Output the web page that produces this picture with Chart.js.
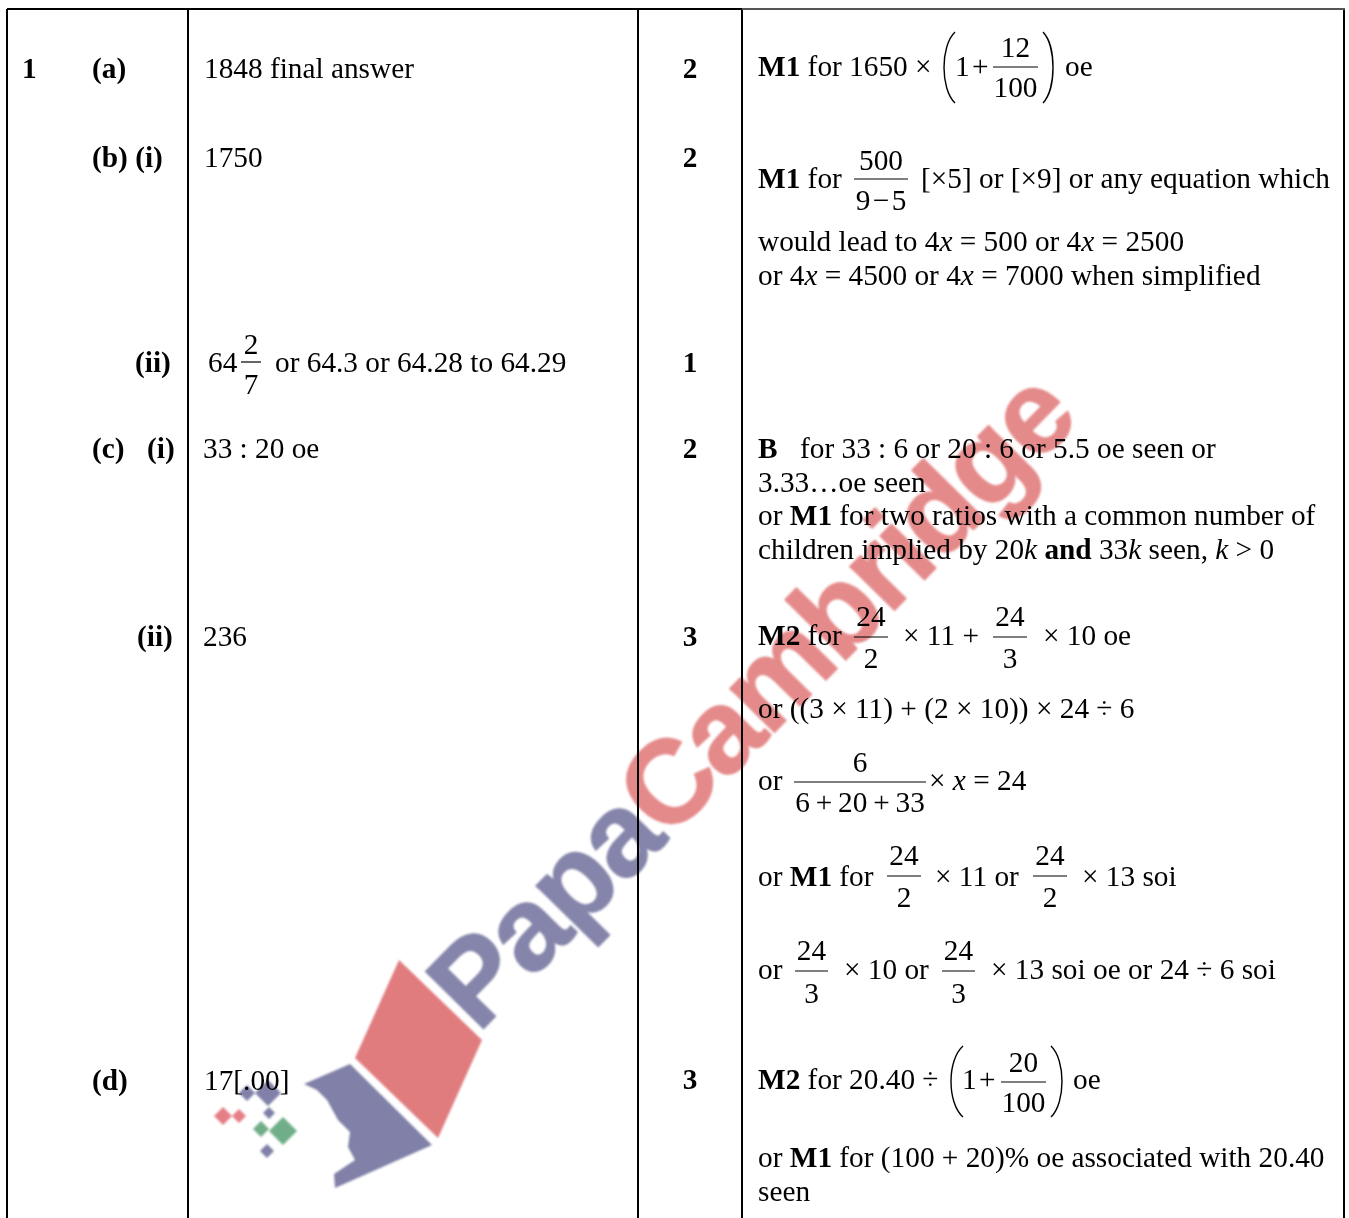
<!DOCTYPE html>
<html>
<head>
<meta charset="utf-8">
<style>
  html, body { margin: 0; padding: 0; background: #fff; }
  canvas { display: block; }
</style>
<script src="https://cdn.jsdelivr.net/npm/chart.js@4"></script>
</head>
<body>
<canvas id="sheet" width="1349" height="1218"></canvas>
<script>
// Table rules
const ruleX1 = [7, 742, 7, 188, 638, 742, 1344];
const ruleY1 = [9, 9, 9, 9, 9, 9, 9];
const ruleX2 = [742, 1345, 7, 188, 638, 742, 1344];
const ruleY2 = [9, 9, 1218, 1218, 1218, 1218, 1218];
const ruleColor = ['#000', '#555', '#000', '#000', '#000', '#000', '#000'];

// Question labels, *bold* and _italic_ are marked in the strings
const cellTexts = [
  '*1*', '*(a)*', '*(b) (i)*', '*(ii)*', '*(c)*', '*(i)*', '*(ii)*', '*(d)*',
  '1848 final answer', '1750', '64', 'or 64.3 or 64.28 to 64.29', '33 : 20 oe', '236', '17[.00]',
  '*M1* for 1650 ×', '1\u200a+', 'oe',
  '*M1* for', '[×5] or [×9] or any equation which',
  'would lead to 4_x_ = 500 or 4_x_ = 2500', 'or 4_x_ = 4500 or 4_x_ = 7000 when simplified',
  '*B*', 'for 33 : 6 or 20 : 6 or 5.5 oe seen or', '3.33…oe seen',
  'or *M1* for two ratios with a common number of',
  'children implied by 20_k_ *and* 33_k_ seen, _k_ > 0',
  '*M2* for', '× 11 +', '× 10 oe',
  'or ((3 × 11) + (2 × 10)) × 24 ÷ 6',
  'or', '× _x_ = 24',
  'or *M1* for', '× 11 or', '× 13 soi',
  'or', '× 10 or', '× 13 soi oe or 24 ÷ 6 soi',
  '*M2* for 20.40 ÷', '1\u200a+', 'oe',
  'or *M1* for (100 + 20)% oe associated with 20.40', 'seen'
];
const cellX = [
  22, 92, 92, 135, 92, 147, 137, 92,
  204, 204, 208, 275, 203, 203, 204,
  758, 955, 1065,
  758, 921,
  758, 758,
  758, 800, 758,
  758,
  758,
  758, 903, 1043,
  758,
  758, 929,
  758, 935, 1082,
  758, 844, 991,
  758, 962, 1073,
  758, 758
];
const cellY = [
  78, 78, 167, 372, 458, 458, 646, 1090,
  78, 167, 372, 372, 458, 646, 1090,
  76, 76, 76,
  188, 188,
  251, 285,
  458, 458, 492,
  525,
  559,
  645, 645, 645,
  718,
  790, 790,
  886, 886, 886,
  979, 979, 979,
  1089, 1089, 1089,
  1167, 1201
];

// Marks column
const markValues = ['2', '2', '1', '2', '3', '3'];
const markX = [690, 690, 690, 690, 690, 690];
const markY = [78, 167, 372, 458, 646, 1089];

// Fractions in the working
const fracTop = ['12', '500', '2', '24', '24', '6', '24', '24', '24', '24', '20'];
const fracBottom = ['100', '9\u200a−\u200a5', '7', '2', '3', '6\u2009+\u200920\u2009+\u200933', '2', '2', '3', '3', '100'];
const fracLeft = [993, 854, 241, 854, 993, 794, 887, 1033, 795, 942, 1001];
const fracRight = [1038, 908, 261, 888, 1027, 926, 921, 1067, 828, 975, 1046];
const fracBar = [67, 179, 362, 637, 637, 782, 876, 876, 971, 971, 1082];
const fracTopY = [57, 170, 354, 626, 626, 772, 865, 865, 960, 960, 1072];
const fracBottomY = [97, 210, 394, 668, 668, 812, 907, 907, 1003, 1003, 1112];

// Big brackets: edge x, bulge x, top y, bottom y
const bracketEdge = [955, 1043, 963, 1051];
const bracketBulge = [944, 1053, 951, 1062];
const bracketTop = [32, 32, 1046, 1046];
const bracketBottom = [103, 103, 1117, 1117];

// Watermark
const wmWords = ['Papa', 'Cambridge'];
const logoRedX = [399, 482, 438, 355];
const logoRedY = [960, 1040, 1138, 1058];
const logoBlueX = [304, 350, 432, 335, 334, 355, 348, 350, 338, 327, 317];
const logoBlueY = [1084, 1064, 1145, 1188, 1174, 1160, 1147, 1132, 1120, 1100, 1090];
const gemX = [268, 247, 269, 223, 239, 283, 261, 267];
const gemY = [1093, 1093, 1113, 1116, 1116, 1131, 1129, 1151];
const gemR = [13, 8, 6, 9, 7, 14, 8, 7];
const gemColor = ['#8080a8', '#8080a8', '#8080a8', '#e57f85', '#e57f85', '#6fae88', '#6fae88', '#8080a8'];

const serif = '"Liberation Serif", "Times New Roman", serif';
const fontSize = 29.3;

function drawRuns(ctx, text, x, y, align) {
  const runs = text.split(/(\*[^*]+\*|_[^_]+_)/).filter(s => s !== '');
  const fontFor = r => {
    if (r[0] === '*') return 'bold ' + fontSize + 'px ' + serif;
    if (r[0] === '_') return 'italic ' + fontSize + 'px ' + serif;
    return fontSize + 'px ' + serif;
  };
  const clean = r => (r[0] === '*' || r[0] === '_') ? r.slice(1, -1) : r;
  let total = 0;
  runs.forEach(r => { ctx.font = fontFor(r); total += ctx.measureText(clean(r)).width; });
  let cx = align === 'center' ? x - total / 2 : x;
  runs.forEach(r => {
    ctx.font = fontFor(r);
    ctx.fillText(clean(r), cx, y);
    cx += ctx.measureText(clean(r)).width;
  });
}

// Draws the text held on the invisible point datasets and the bits the library has no element for
const sheetPlugin = {
  id: 'sheetPlugin',
  afterDatasetsDraw(chart) {
    const ctx = chart.ctx;
    const sx = chart.scales.x;
    const sy = chart.scales.y;
    ctx.save();
    ctx.fillStyle = '#000';
    ctx.textBaseline = 'alphabetic';
    ctx.textAlign = 'left';
    chart.getDatasetMeta(chart.data.datasets.findIndex(d => d.label === 'cells')).data.forEach((pt, i) => {
      drawRuns(ctx, cellTexts[i], pt.x, pt.y, 'left');
    });
    chart.getDatasetMeta(chart.data.datasets.findIndex(d => d.label === 'marks')).data.forEach((pt, i) => {
      drawRuns(ctx, '*' + markValues[i] + '*', pt.x, pt.y, 'center');
    });
    fracTop.forEach((t, i) => {
      const mid = sx.getPixelForValue((fracLeft[i] + fracRight[i]) / 2);
      drawRuns(ctx, t, mid, sy.getPixelForValue(fracTopY[i]), 'center');
      drawRuns(ctx, fracBottom[i], mid, sy.getPixelForValue(fracBottomY[i]), 'center');
    });
    ctx.strokeStyle = '#000';
    ctx.lineWidth = 1.4;
    bracketEdge.forEach((e, i) => {
      const top = sy.getPixelForValue(bracketTop[i]);
      const bottom = sy.getPixelForValue(bracketBottom[i]);
      const edge = sx.getPixelForValue(e);
      const bulge = sx.getPixelForValue(bracketBulge[i]);
      const ctrl = edge + (bulge - edge) / 0.75;
      ctx.beginPath();
      ctx.moveTo(edge, top);
      ctx.bezierCurveTo(ctrl, top + 14, ctrl, bottom - 14, edge, bottom);
      ctx.stroke();
    });

    // watermark goes over the text, on its own layer so the strokes do not double up
    const layer = document.createElement('canvas');
    layer.width = chart.width;
    layer.height = chart.height;
    const lc = layer.getContext('2d');
    const poly = (xs, ys, color) => {
      lc.fillStyle = color;
      lc.beginPath();
      xs.forEach((x, i) => lc.lineTo(sx.getPixelForValue(x), sy.getPixelForValue(ys[i])));
      lc.closePath();
      lc.fill();
    };
    poly(logoRedX, logoRedY, '#e07c7e');
    poly(logoBlueX, logoBlueY, '#8080a8');
    gemX.forEach((x, i) => {
      const r = gemR[i];
      poly([x - r, x, x + r, x], [gemY[i], gemY[i] - r, gemY[i], gemY[i] + r], gemColor[i]);
    });
    lc.translate(sx.getPixelForValue(478), sy.getPixelForValue(1034));
    lc.rotate(-45.5 * Math.PI / 180);
    lc.font = 'bold 118px "Liberation Sans", Arial, sans-serif';
    lc.letterSpacing = '-3px';
    lc.lineWidth = 1.5;
    lc.lineJoin = 'round';
    lc.fillStyle = lc.strokeStyle = '#8585ab';
    lc.strokeText(wmWords[0], 0, 0);
    lc.fillText(wmWords[0], 0, 0);
    const w = lc.measureText(wmWords[0]).width;
    lc.fillStyle = lc.strokeStyle = '#e58a8a';
    lc.strokeText(wmWords[1], w, 0);
    lc.fillText(wmWords[1], w, 0);

    ctx.globalCompositeOperation = 'multiply';
    ctx.filter = 'blur(0.8px)';
    ctx.drawImage(layer, 0, 0);
    ctx.restore();
  }
};

const lineSet = (x1, y1, x2, y2, width, color) => ({
  type: 'scatter',
  showLine: true,
  data: [{ x: x1, y: y1 }, { x: x2, y: y2 }],
  borderColor: color,
  borderWidth: width,
  pointRadius: 0,
  fill: false
});

const datasets = [];
ruleX1.forEach((x, i) => datasets.push(lineSet(x, ruleY1[i], ruleX2[i], ruleY2[i], 2, ruleColor[i])));
fracLeft.forEach((x, i) => datasets.push(lineSet(x, fracBar[i], fracRight[i], fracBar[i], 1.2, '#000')));
datasets.push({ label: 'cells', type: 'scatter', data: cellX.map((x, i) => ({ x: x, y: cellY[i] })), pointRadius: 0 });
datasets.push({ label: 'marks', type: 'scatter', data: markX.map((x, i) => ({ x: x, y: markY[i] })), pointRadius: 0 });

new Chart(document.getElementById('sheet').getContext('2d'), {
  type: 'scatter',
  data: { datasets: datasets },
  plugins: [sheetPlugin],
  options: {
    responsive: false,
    animation: false,
    layout: { padding: 0 },
    plugins: { legend: { display: false }, tooltip: { enabled: false } },
    scales: {
      x: { type: 'linear', display: false, min: 0, max: 1349 },
      y: { type: 'linear', display: false, min: 0, max: 1218, reverse: true }
    }
  }
});
</script>
</body>
</html>
